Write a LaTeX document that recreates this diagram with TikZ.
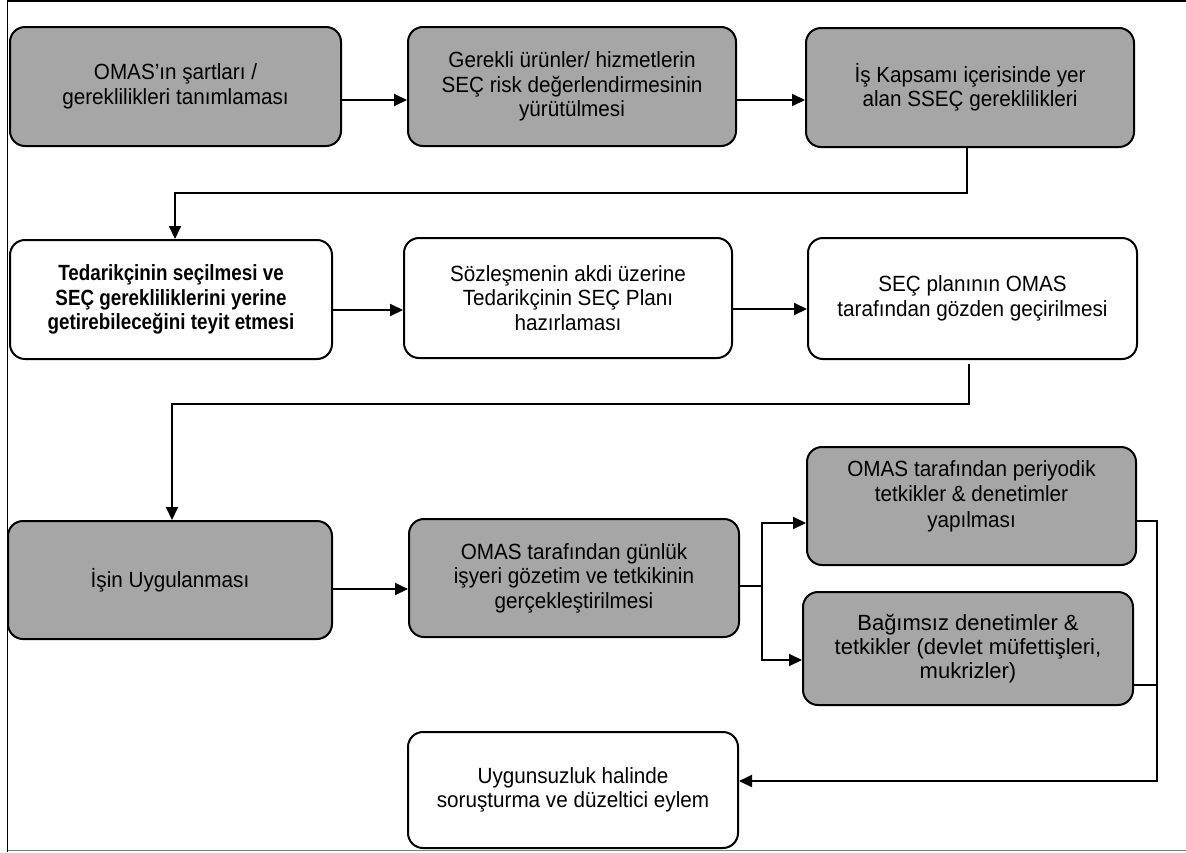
\documentclass[tikz,border=0pt]{standalone}
\usepackage{fontspec}
\setmainfont{Liberation Sans}[FakeStretch=0.94]
\newfontfamily\boldnarrow{Liberation Sans}[FakeStretch=0.855]
\newfontfamily\wideish{Liberation Sans}[FakeStretch=1.0]
\usetikzlibrary{arrows.meta,calc}
\definecolor{boxgray}{RGB}{166,166,166}
\begin{document}
\begin{tikzpicture}[x=1pt,y=-1pt,
  box/.style={draw=black,line width=2pt,rounded corners=15pt,align=center,
    inner sep=0pt,font=\fontsize{22}{24.5}\selectfont},
  graybox/.style={box,fill=boxgray},
  whitebox/.style={box,fill=white},
  conn/.style={line width=2pt},
  arr/.style={conn,-{Triangle[length=13pt,width=12pt]}}]
\useasboundingbox (0,0) rectangle (1186,852);
% frame
\draw[line width=1.5pt] (7.5,0.8) -- (1186,0.8);
\draw[line width=1.5pt] (7.5,0) -- (7.5,852);
\draw[line width=1.5pt,gray] (7.5,850.5) -- (1186,850.5);
% row 1
\node[graybox,minimum width=331pt,minimum height=119pt] (b1) at (175.5,86.5)
  {OMAS’ın şartları /\\gereklilikleri tanımlaması};
\node[graybox,minimum width=328pt,minimum height=119pt] (b2) at (572,86.5)
  {Gerekli ürünler/ hizmetlerin\\SEÇ risk değerlendirmesinin\\yürütülmesi};
\node[graybox,minimum width=328pt,minimum height=119pt] (b3) at (970,87.5)
  {İş Kapsamı içerisinde yer\\alan SSEÇ gereklilikleri};
% row 2
\node[whitebox,minimum width=322pt,minimum height=119pt,font=\fontsize{22}{24.5}\selectfont\boldnarrow\bfseries] (b4) at (171,299.5)
  {Tedarikçinin seçilmesi ve\\SEÇ gerekliliklerini yerine\\getirebileceğini teyit etmesi};
\node[whitebox,minimum width=328pt,minimum height=120pt] (b5) at (568,298)
  {Sözleşmenin akdi üzerine\\Tedarikçinin SEÇ Planı\\hazırlaması};
\node[whitebox,minimum width=329pt,minimum height=121pt] (b6) at (972.5,298.5)
  {SEÇ planının OMAS\\tarafından gözden geçirilmesi};
% row 3
\node[graybox,minimum width=324pt,minimum height=118pt] (b7) at (170,580)
  {İşin Uygulanması};
\node[graybox,minimum width=330pt,minimum height=118pt] (b8) at (574,578)
  {OMAS tarafından günlük\\işyeri gözetim ve tetkikinin\\gerçekleştirilmesi};
\node[graybox,minimum width=329pt,minimum height=118pt] (b9) at (971.5,506) {};
\node[align=center,inner sep=0pt,font=\fontsize{22}{25.5}\selectfont] (t9) at (971.5,496)
  {OMAS tarafından periyodik\\tetkikler \& denetimler\\yapılması};
\node[graybox,minimum width=330pt,minimum height=113pt,font=\fontsize{22}{24}\selectfont\wideish] (b10) at (968,648.5)
  {Bağımsız denetimler \&\\tetkikler (devlet müfettişleri,\\mukrizler)};
\node[whitebox,minimum width=330pt,minimum height=116pt] (b11) at (573,790)
  {Uygunsuzluk halinde\\soruşturma ve düzeltici eylem};
% connectors
\draw[arr] ([yshift=-13.5pt]b1.east) -- ([yshift=-13.5pt]b2.west);
\draw[arr] ([yshift=-13.5pt]b2.east) -- ([yshift=-12.5pt]b3.west);
\draw[arr] ([xshift=-3pt]b3.south) -- ++(0,45) -| ([xshift=4pt]b4.north);
\draw[arr] ([yshift=-10.5pt]b4.east) -- ([yshift=-12pt]b5.west);
\draw[arr] ([yshift=-11pt]b5.east) -- ([yshift=-10.5pt]b6.west);
\draw[arr] ([xshift=-3.5pt,yshift=-4pt]b6.south) -- ++(0,40) -| ([xshift=2pt]b7.north);
\draw[arr] ([yshift=-9pt]b7.east) -- ([yshift=-11pt]b8.west);
\draw[conn] ([yshift=-8pt]b8.east) -- ++(22,0) coordinate (br);
\draw[arr] (br) |- ([yshift=-17pt]b9.west);
\draw[arr] (br) |- ([yshift=-11.5pt]b10.west);
\draw[arr] ([yshift=-15pt]b9.east) -- ++(20,0) coordinate (rt) |- ([yshift=9pt]b11.east);
\draw[conn] ([yshift=-36.5pt]b10.east) -- ++(23,0);
\end{tikzpicture}
\end{document}
